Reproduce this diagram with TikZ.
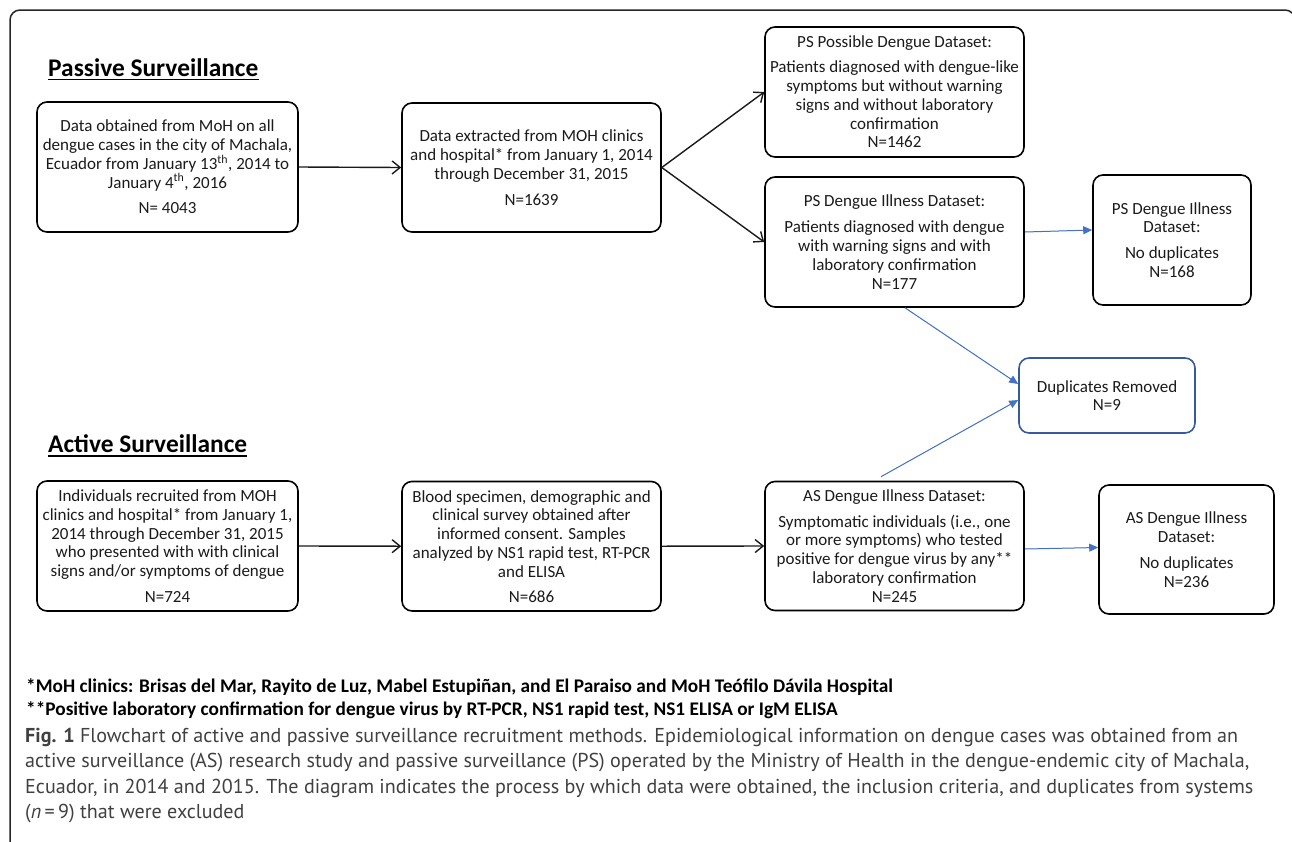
\documentclass[tikz,border=0pt]{standalone}
\usepackage{fontspec}
\setmainfont{Carlito}
\newfontfamily\capfont{PT Sans}
\usetikzlibrary{arrows.meta}
\definecolor{arrowblue}{HTML}{4472C4}
\definecolor{capgray}{HTML}{404040}
\definecolor{txt}{HTML}{1A1A1A}
\begin{document}
\begin{tikzpicture}[x=1pt,y=-1pt,
  box/.style={draw=black, line width=1.6pt, rounded corners=10pt, align=center,
    inner sep=0pt, text=txt, font=\fontsize{17}{18.8}\selectfont},
  bluebox/.style={box, draw=arrowblue!80!black},
  blackarrow/.style={-{Straight Barb[length=8pt,width=13pt,line width=1.4pt]}, line width=1.4pt, draw=txt},
  bluearrow/.style={-{Triangle[length=9pt,width=8pt]}, draw=arrowblue, fill=arrowblue, line width=1pt},
  heading/.style={font=\fontsize{25.4}{28}\bfseries\selectfont, anchor=base west, inner sep=0pt, text=black},
  foot/.style={font=\fontsize{19.3}{22}\bfseries\selectfont, anchor=base west, inner sep=0pt, text=black},
  captext/.style={font=\capfont\fontsize{20.1}{24}\selectfont, anchor=base west, inner sep=0pt, text=capgray},
  frame/.style={draw=black!85, line width=1.5pt, rounded corners=10pt}
]
\useasboundingbox (0,0) rectangle (1292,841);
\begin{scope}
  \clip (0,0) rectangle (1292,841);
  \draw[frame] (10,10) rectangle (1295,900);
\end{scope}

% headings
\node[heading] (PS) at (48,76) {Passive Surveillance};
\draw[line width=1.5pt] ([yshift=-3.3pt]PS.base west) -- ([yshift=-3.3pt]PS.base east);
\node[heading] (AS) at (48,452.5) {Active Surveillance};
\draw[line width=1.5pt] ([yshift=-3.3pt]AS.base west) -- ([yshift=-3.3pt]AS.base east);

% passive boxes
\node[box, minimum width=261pt, minimum height=130pt] (A) at (167.5,167)
  {Data obtained from MoH on all\\dengue cases in the city of Machala,\\Ecuador from January 13\textsuperscript{th}, 2014 to\\January 4\textsuperscript{th}, 2016\\[7pt]N= 4043};
\node[box, minimum width=259pt, minimum height=129pt] (B) at (531.5,167.5)
  {Data extracted from MOH clinics\\and hospital* from January 1, 2014\\through December 31, 2015\\[7pt]N=1639};
\node[box, minimum width=259pt, minimum height=130pt] (C) at (894.5,92)
  {PS Possible Dengue Dataset:\\[6pt]Patients diagnosed with dengue-like\\symptoms but without warning\\signs and without laboratory\\confirmation\\N=1462};
\node[box, minimum width=259pt, minimum height=130pt] (D) at (894.5,242)
  {PS Dengue Illness Dataset:\\[7pt]Patients diagnosed with dengue\\with warning signs and with\\laboratory confirmation\\N=177};
\node[box, minimum width=158pt, minimum height=130pt] (E) at (1172,240)
  {PS Dengue Illness\\Dataset:\\[7pt]No duplicates\\N=168};
\node[bluebox, minimum width=176pt, minimum height=75pt] (F) at (1107,395.5)
  {Duplicates Removed\\N=9};

% active boxes
\node[box, minimum width=261pt, minimum height=130pt] (I) at (167.5,546)
  {Individuals recruited from MOH\\clinics and hospital* from January 1,\\2014 through December 31, 2015\\who presented with with clinical\\signs and/or symptoms of dengue\\[7pt]N=724};
\node[box, minimum width=259pt, minimum height=129.5pt] (J) at (531.5,546.2)
  {Blood specimen, demographic and\\clinical survey obtained after\\informed consent. Samples\\analyzed by NS1 rapid test, RT-PCR\\and ELISA\\[6pt]N=686};
\node[box, minimum width=259pt, minimum height=129pt] (G) at (894.5,546)
  {AS Dengue Illness Dataset:\\[7pt]Symptomatic individuals (i.e., one\\or more symptoms) who tested\\positive for dengue virus by any**\\laboratory confirmation\\N=245};
\node[box, minimum width=175pt, minimum height=129pt] (H) at (1186.5,549.5)
  {AS Dengue Illness\\Dataset:\\[7pt]No duplicates\\N=236};

% black arrows
\draw[blackarrow] (A.east) -- (B.west);
\draw[blackarrow] (B.east) -- (C.west);
\draw[blackarrow] (B.east) -- (D.west);
\draw[blackarrow] (I.east) -- (J.west);
\draw[blackarrow] (J.east) -- (G.west);

% blue arrows
\draw[bluearrow] ([yshift=10pt]D.east) -- ([yshift=10pt]E.west);
\draw[bluearrow] ([yshift=-3pt]G.east) -- ([yshift=2pt]H.west);
\draw[bluearrow] ([xshift=10.5pt]D.south) -- ([yshift=11.5pt]F.west);
\draw[bluearrow] ([xshift=-13.5pt,yshift=4pt]G.north) -- ([yshift=-4.5pt]F.west);

% footnotes
\node[foot] (f1) at (26,692) {*MoH clinics: Brisas del Mar, Rayito de Luz, Mabel Estupiñan, and El Paraiso and MoH Teófilo Dávila Hospital};
\node[foot] (f2) at (26,715.5) {**Positive laboratory confirmation for dengue virus by RT-PCR, NS1 rapid test, NS1 ELISA or IgM ELISA};

% caption
\node[captext] (c1) at (25,742) {\textbf{Fig. 1} Flowchart of active and passive surveillance recruitment methods. Epidemiological information on dengue cases was obtained from an};
\node[captext] (c2) at (25,767.5) {active surveillance (AS) research study and passive surveillance (PS) operated by the Ministry of Health in the dengue-endemic city of Machala,};
\node[captext] (c3) at (25,793) {Ecuador, in 2014 and 2015. The diagram indicates the process by which data were obtained, the inclusion criteria, and duplicates from systems};
\node[captext] (c4) at (25,818.5) {(\textit{n}\,=\,9) that were excluded};
\end{tikzpicture}
\end{document}
